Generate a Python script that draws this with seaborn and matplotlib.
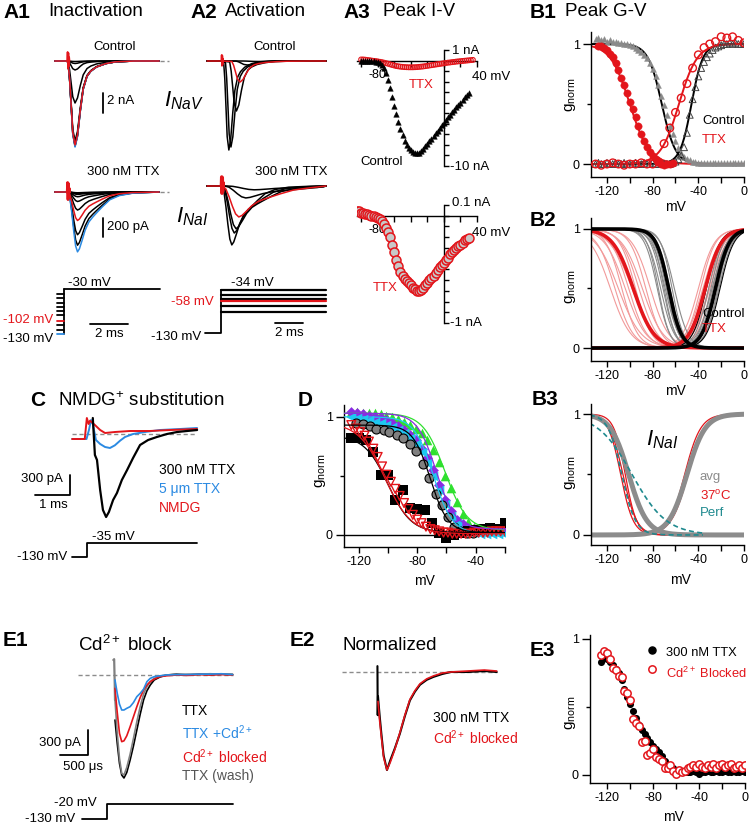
import numpy as np
import seaborn as sns
import matplotlib.pyplot as plt
from matplotlib.lines import Line2D

# ---------------- values ----------------
# normalised Na current waveforms, time in ms from the voltage step
ctrl_wave_t = [-0.7, -0.05, 0.0, 0.08, 0.16, 0.25, 0.37, 0.5, 0.65, 0.8, 1.0, 1.2, 1.5, 2.0, 2.5, 3.5, 4.8]
ctrl_wave = [0, 0, 0.02, 0.2, 0.5, 0.85, 1.0, 0.88, 0.58, 0.33, 0.18, 0.12, 0.07, 0.03, 0.01, 0, 0]
ttx_wave_t = [-0.7, -0.05, 0.0, 0.1, 0.2, 0.3, 0.4, 0.5, 0.6, 0.75, 0.9, 1.1, 1.3, 1.5, 1.8, 2.2, 2.7, 3.4, 4.8]
ttx_wave = [0, 0, 0, 0.1, 0.35, 0.65, 0.9, 1.0, 0.95, 0.8, 0.64, 0.5, 0.42, 0.35, 0.25, 0.13, 0.06, 0.02, 0]
artifact_t = [-0.04, -0.02, 0.0, 0.02, 0.04, 0.06, 0.08]
artifact = [0, 1.0, -0.8, 0.9, -0.6, 0.4, 0]

# A1 inactivation: prepulse (mV) and peak currents
a1_pre_mv = [-130, -121, -111, -102, -88, -79, -70, -61, -50, -41]
a1_step_mv = -30
a1_ctrl_peak = [-8.6, -8.5, -8.5, -8.4, -8.3, -8.0, -4.2, -0.9, -0.25, -0.05]   # nA
a1_ttx_peak = [-630, -560, -450, -300, -190, -100, -50, -25, -15, -8]         # pA

# A2 activation: test pulses (mV), peaks and kinetics
a2_test_mv = [-83, -69, -58, -54, -45, -34]
a2_ctrl_peak = [-0.05, -0.4, -2.1, -5.0, -8.6, -8.9]
a2_ctrl_delay = [1.5, 1.0, 0.7, 0.55, 0.25, 0.12]
a2_ctrl_stretch = [3.0, 2.2, 1.6, 1.3, 1.05, 1.0]
a2_ttx_peak = [-40, -126, -326, -450, -495, -620]
a2_ttx_delay = [0.4, 0.2, 0.05, 0.05, 0.05, 0.0]
a2_ttx_stretch = [3.8, 3.0, 2.3, 1.9, 1.65, 1.4]

# A3 peak I-V
iv_ctrl_v = np.arange(-100, 30.1, 2.5)
iv_ctrl_na = [0.0, 0.0, 0.0, 0.0, 0.0, -0.05, -0.05, -0.1, -0.15, -0.25,
              -0.4, -0.75, -1.2, -1.8, -2.6, -3.5, -4.3, -5.1, -5.8, -6.5,
              -7.1, -7.6, -8.0, -8.3, -8.5, -8.65, -8.75, -8.8, -8.75, -8.6,
              -8.4, -8.15, -7.9, -7.65, -7.4, -7.15, -6.9, -6.65, -6.4, -6.15,
              -5.9, -5.65, -5.4, -5.15, -4.9, -4.65, -4.45, -4.2, -4.0, -3.75,
              -3.5, -3.3, -3.1]
iv_ttx_v = np.arange(-100, 35.1, 2.5)
iv_ttx_na = [0.1, 0.1, 0.08, 0.05, 0.03, 0.0, -0.03, -0.05, -0.08, -0.12,
             -0.15, -0.2, -0.25, -0.3, -0.36, -0.42, -0.47, -0.52, -0.55, -0.58,
             -0.6, -0.62, -0.63, -0.64, -0.64, -0.64, -0.63, -0.62, -0.6, -0.58,
             -0.56, -0.53, -0.5, -0.47, -0.44, -0.41, -0.38, -0.35, -0.32, -0.29,
             -0.26, -0.23, -0.2, -0.18, -0.15, -0.13, -0.1, -0.08, -0.06, -0.04,
             -0.02, 0.0, 0.02, 0.04, 0.06]
iv_nai_v = np.arange(-105, 30.1, 2.5)
iv_nai_na = [0.04, 0.04, 0.03, 0.03, 0.02, 0.02, 0.01, 0.0, 0.0, -0.01,
             -0.02, -0.03, -0.05, -0.08, -0.11, -0.15, -0.2, -0.27, -0.34, -0.41,
             -0.47, -0.52, -0.56, -0.59, -0.61, -0.63, -0.65, -0.67, -0.68, -0.7,
             -0.7, -0.69, -0.67, -0.65, -0.63, -0.6, -0.58, -0.56, -0.53, -0.51,
             -0.48, -0.46, -0.44, -0.41, -0.39, -0.36, -0.34, -0.32, -0.3, -0.28,
             -0.27, -0.25, -0.23, -0.22, -0.21]

# B1 peak G-V
b1_v = np.arange(-130, 0.1, 2.5)
b1_ctrl_inact = [1.04, 1.05, 1.03, 1.04, 1.02, 1.03, 1.02, 1.02, 1.01, 1.01,
                 1.0, 1.0, 0.99, 0.98, 0.97, 0.95, 0.93, 0.91, 0.88, 0.84,
                 0.79, 0.73, 0.66, 0.57, 0.49, 0.41, 0.32, 0.25, 0.19, 0.13,
                 0.09, 0.06, 0.04, 0.03, 0.02, 0.02, 0.01, 0.01, 0.01, 0.01,
                 0.01, 0.01, 0.01, 0.01, 0.01, 0.01, 0.01, 0.01, 0.01, 0.01,
                 0.01, 0.01, 0.01]
b1_ctrl_act = [0.0, 0.01, 0.0, 0.0, 0.01, 0.0, 0.0, 0.01, 0.0, 0.0,
               0.01, 0.0, 0.0, 0.0, 0.01, 0.0, 0.0, 0.01, 0.0, 0.0,
               0.01, 0.0, 0.0, 0.01, 0.0, 0.0, 0.0, 0.01, 0.02, 0.04,
               0.07, 0.14, 0.26, 0.41, 0.54, 0.64, 0.73, 0.8, 0.85, 0.89,
               0.92, 0.95, 0.97, 0.98, 0.99, 1.0, 1.0, 1.01, 1.0, 1.01,
               1.0, 1.0, 1.0]
b1_ttx_inact_v = np.arange(-127.5, -62.4, 2.5)
b1_ttx_inact = [0.98, 0.98, 0.97, 0.95, 0.92, 0.89, 0.84, 0.78, 0.72, 0.66,
                0.59, 0.52, 0.46, 0.39, 0.32, 0.25, 0.19, 0.14, 0.1, 0.07,
                0.04, 0.02, 0.0, -0.01, 0.0, 0.0, 0.01]
b1_ttx_act_v = np.arange(-130, 0.1, 5)
b1_ttx_act = [0.0, -0.01, 0.0, 0.01, 0.0, -0.01, 0.0, 0.0, 0.01, 0.0,
              0.0, 0.02, 0.17, 0.3, 0.43, 0.55, 0.67, 0.8, 0.91, 0.97,
              1.0, 1.02, 1.06, 1.05, 1.06, 1.03, 1.01]
# Boltzmann fits (V1/2, k)
b1_fit_ctrl = [(-72, 6.0), (-46, 5.0)]
b1_fit_ttx = [(-100, 8.5), (-57, 8.0)]

# B2 individual-cell fits
b2_ctrl_inact_vh = [-76, -75, -73, -71, -70, -69, -68, -67, -66, -65, -63, -61]
b2_ctrl_inact_k = [5.5, 5.0, 6.0, 5.5, 5.0, 6.0, 5.5, 5.0, 6.0, 5.5, 5.0, 6.0]
b2_ctrl_act_vh = [-31, -29, -28, -27, -26, -25, -24, -23, -22]
b2_ctrl_act_k = [6.0, 5.5, 6.5, 6.0, 5.5, 6.0, 6.5, 5.5, 6.0]
b2_ctrl_dark_act_vh = [-33, -21]
b2_ttx_inact_vh = [-117, -113, -110, -107, -104, -101, -98, -95, -92, -89, -86, -82]
b2_ttx_inact_k = [9, 8, 10, 7, 9, 8, 10, 7, 8, 9, 7, 8]
b2_ttx_act_vh = [-40, -38, -36, -35, -33, -31, -30, -28]
b2_ttx_act_k = [7, 6.5, 7.5, 7, 6.5, 7, 7.5, 7]
b2_mean_ctrl = [(-66, 5.5), (-25, 6.0)]
b2_mean_ttx = [(-97, 9.0), (-34, 7.0)]

# B3 I_NaI fits
b3_avg = [(-101, 8.0), (-50, 8.0)]
b3_warm_inact = [(-108, 5.5), (-106, 6.0), (-104, 5.0)]
b3_warm_act = [(-52, 7.0), (-49, 7.5)]
b3_perf_inact = [(-107, 6.0), (-98, 15.0)]

# C NMDG substitution traces (ms, pA)
c_ttx_t = [0.08, 0.14, 0.2, 0.29, 0.37, 0.46, 0.54, 0.66, 0.77, 0.91, 1.06, 1.23, 1.43, 1.66, 1.91, 2.2, 2.49, 2.77, 3.06]
c_ttx_pa = [240, -315, -390, -840, -1140, -1245, -1170, -990, -885, -690, -540, -360, -165, -90, -45, 0, 30, 45, 60]
c_5ttx_t = [-0.51, -0.1, -0.03, 0.03, 0.08, 0.17, 0.29, 0.43, 0.57, 0.71, 0.86, 1.0, 1.23, 1.57, 2.0, 2.57, 3.06]
c_5ttx_pa = [-75, -75, 60, 210, 150, -90, -150, -195, -210, -170, -100, -45, 0, 30, 60, 75, 90]
c_nmdg_t = [-0.51, -0.15, -0.09, -0.04, 0.0, 0.14, 0.29, 0.43, 0.71, 1.14, 1.71, 2.29, 3.06]
c_nmdg_pa = [-75, -75, 240, 150, 200, 135, 60, 15, 30, 45, 45, 60, 75]

# D inactivation curves of several cells
d_v = [-125, -121, -117, -113, -109, -105, -101, -97, -93, -89, -85, -81, -77, -73,
       -69, -65, -61, -57, -53, -49, -45, -41, -37, -33, -29, -25, -21]
d_green = [1.04, 1.04, 1.03, 1.03, 1.03, 1.02, 1.01, 1.0, 0.98, 0.96, 0.93, 0.9, 0.86, 0.8,
           0.72, 0.62, 0.5, 0.4, 0.28, 0.18, 0.11, 0.07, 0.05, 0.04, 0.04, 0.04, 0.04]
d_purple = [1.04, 1.03, 1.02, 1.01, 1.0, 0.99, 0.97, 0.95, 0.92, 0.89, 0.85, 0.8, 0.73, 0.65,
            0.55, 0.42, 0.3, 0.2, 0.13, 0.09, 0.06, 0.05, 0.05, 0.05, 0.05, 0.05, 0.05]
d_cyan = [1.0, 0.99, 0.98, 0.97, 0.96, 0.95, 0.93, 0.91, 0.89, 0.86, 0.82, 0.77, 0.7, 0.61,
          0.5, 0.38, 0.26, 0.16, 0.09, 0.05, 0.03, 0.02, 0.01, 0.01, 0.01, 0.01, 0.01]
d_gray_v = [-122, -117, -112, -108, -103, -99, -94, -90, -85, -81, -76, -72, -67, -63, -59, -55, -51, -46, -42]
d_gray = [0.95, 0.94, 0.92, 0.9, 0.89, 0.87, 0.85, 0.82, 0.77, 0.71, 0.6, 0.48, 0.35, 0.25, 0.15, 0.07, 0.03, 0.02, 0.02]
d_black_v = [-125, -120, -115, -110, -105, -100, -95, -90, -85, -80, -75, -70, -65, -60, -55, -50, -45, -40, -35, -30, -25, -20]
d_black = [0.82, 0.82, 0.8, 0.7, 0.51, 0.51, 0.3, 0.38, 0.23, 0.22, 0.21, 0.1, 0.02, -0.03, 0.0, 0.02, 0.03, 0.04, 0.05, 0.06, 0.05, 0.1]
d_red_v = np.arange(-125, -19.9, 3)
d_red = [0.93, 0.9, 0.87, 0.84, 0.79, 0.73, 0.66, 0.58, 0.51, 0.45, 0.39, 0.33, 0.27, 0.22, 0.17,
         0.13, 0.1, 0.07, 0.05, 0.04, 0.03, 0.02, 0.02, 0.01, 0.01, 0.01, 0.01, 0.01, 0.02, 0.02,
         0.02, 0.02, 0.03, 0.03, 0.03, 0.03]
# fits (top, bottom, V1/2, k)
d_fits = {'green': (1.03, 0.04, -61, 7.5), 'purple': (1.03, 0.05, -67, 6.5), 'cyan': (1.0, 0.01, -69, 6.5),
          'gray': (0.93, 0.02, -71, 6.0), 'black': (0.84, 0.02, -100, 8.0), 'red': (0.95, 0.01, -102, 9.0)}

# E1/E2 Cd2+ block traces (ms, pA)
e1_t = [0.0, 0.04, 0.08, 0.12, 0.16, 0.21, 0.27, 0.33, 0.39, 0.45, 0.51, 0.57, 0.63, 0.7, 0.8, 0.92, 1.1, 1.3, 1.5, 1.7, 1.9, 2.1]
e1_ttx = [-540, -820, -1060, -1200, -1236, -1170, -1020, -850, -660, -470, -300, -190, -120, -60, -25, 0, 10, 0, 10, 5, 10, 5]
e1_wash = [-300, -700, -1000, -1180, -1200, -1110, -950, -760, -560, -380, -230, -140, -80, -40, -15, 0, 5, 10, 10, 15, 10, 10]
e1_cd_blocked = [-160, -450, -700, -800, -790, -730, -620, -500, -380, -270, -180, -120, -80, -50, -20, -10, 0, -5, 5, 0, 5, 0]
e1_ttx_cd = [-60, -220, -350, -420, -420, -400, -380, -330, -260, -220, -170, -80, -40, -20, -10, 0, 5, 5, 10, 10, 15, 5]
e1_art_t = [-0.03, -0.015, -0.005, 0.0]
e1_art = [180, 190, -100, -300]
e2_ttx_t = [-0.01, -0.005, 0.0, 0.03, 0.06, 0.1, 0.16, 0.22, 0.3, 0.39, 0.48, 0.57, 0.66, 0.75, 0.87, 0.99, 1.15, 1.3, 1.6, 1.9, 2.12]
e2_ttx = [0.06, -0.44, -0.25, -0.45, -0.63, -0.85, -1.0, -0.9, -0.78, -0.63, -0.45, -0.29, -0.2, -0.13, -0.08, -0.05, -0.02, 0.0, 0.0, 0.01, 0.0]
e2_cd_t = [0.0, 0.03, 0.06, 0.1, 0.16, 0.22, 0.3, 0.39, 0.48, 0.57, 0.66, 0.75, 0.87, 0.99, 1.15, 1.3, 1.6, 1.9, 2.12]
e2_cd = [-0.3, -0.5, -0.66, -0.87, -1.0, -0.92, -0.79, -0.62, -0.44, -0.28, -0.19, -0.12, -0.07, -0.04, -0.01, 0.0, 0.01, 0.02, 0.01]

# E3 inactivation, 300 nM TTX vs Cd2+ blocked
e3_v = np.arange(-125, 0.1, 2.5)
e3_ttx = [0.83, 0.86, 0.85, 0.83, 0.81, 0.78, 0.75, 0.7, 0.63, 0.57,
          0.52, 0.47, 0.42, 0.37, 0.33, 0.3, 0.27, 0.24, 0.21, 0.19,
          0.17, 0.14, 0.1, 0.07, 0.06, 0.05, 0.04, 0.03, 0.03, 0.02,
          0.02, 0.02, 0.03, 0.02, 0.01, 0.02, 0.02, 0.03, 0.02, 0.02,
          0.03, 0.02, 0.02, 0.03, 0.02, 0.02, 0.03, 0.02, 0.02, 0.03, 0.02]
e3_cd = [0.88, 0.91, 0.9, 0.85, 0.79, 0.77, 0.73, 0.72, 0.62, 0.6,
         0.55, 0.41, 0.38, 0.36, 0.24, 0.25, 0.15, 0.16, 0.19, 0.13,
         0.12, 0.1, 0.05, 0.05, 0.07, 0.03, 0.01, 0.04, 0.02, 0.03,
         0.05, 0.06, 0.07, 0.06, 0.08, 0.06, 0.05, 0.07, 0.06, 0.08,
         0.05, 0.07, 0.08, 0.06, 0.07, 0.08, 0.05, 0.06, 0.07, 0.05, 0.07]

RED = '#e3151b'
BLUE = '#2b8ae2'
GRAY = '#8a8a8a'
LIGHTRED = '#f29a9a'
TEAL = '#1f8a8f'

sns.set_theme(style='ticks', rc={'axes.edgecolor': 'black', 'axes.linewidth': 1.0,
                                 'xtick.color': 'black', 'ytick.color': 'black',
                                 'xtick.major.width': 1.0, 'ytick.major.width': 1.0,
                                 'ytick.minor.width': 1.0, 'xtick.minor.width': 1.0})
plt.rcParams['font.family'] = ['Liberation Sans', 'DejaVu Sans']
plt.rcParams['mathtext.fontset'] = 'custom'
plt.rcParams['mathtext.rm'] = 'Liberation Sans'
plt.rcParams['mathtext.it'] = 'Liberation Sans:italic'

W, H = 750, 824
fig = plt.figure(figsize=(W / 100, H / 100), dpi=100)


def box(x0, y0, x1, y1):
    return fig.add_axes([x0 / W, 1 - y1 / H, (x1 - x0) / W, (y1 - y0) / H])


def txt(x, y, s, size=9.5, ha='left', color='black', **kw):
    fig.text(x / W, 1 - y / H, s, size=size, ha=ha, va='center', color=color, **kw)


def bar(xs, ys, lw=1.3):
    fig.add_artist(Line2D([x / W for x in xs], [1 - y / H for y in ys], color='black', lw=lw))


def trace_axes(x0, y0, x1, y1, t0, px_ms, base, px_unit):
    # axes placed by pixel box, with time zero at t0 and y zero at base
    ax = box(x0, y0, x1, y1)
    ax.set_xlim((x0 - t0) / px_ms, (x1 - t0) / px_ms)
    ax.set_ylim((base - y1) / px_unit, (base - y0) / px_unit)
    ax.axis('off')
    return ax


def draw(ax, t, y, color, lw=1.0, **kw):
    sns.lineplot(x=np.asarray(t, float), y=np.asarray(y, float), ax=ax, color=color, lw=lw,
                 sort=False, estimator=None, legend=False, **kw)


def baseline(ax, t0, t1):
    ax.plot([t0, t1], [0, 0], color='#8c8c8c', lw=1.0, ls=(0, (3, 2)))


def wave(t_list, shape, peak, delay=0.0, stretch=1.0, start=None, end=None):
    t = np.array(t_list, float)
    y = peak * np.array(shape, float)
    t = np.where(t >= 0, delay + t * stretch, t)
    if start is not None:
        t[0] = start
    if end is not None:
        keep = t < end
        t = np.append(t[keep], end)
        y = np.append(y[keep], 0.0)
    return t, y


def rank(v, red_v):
    return 2 if v == red_v else (1 if v == -130 else 0)


def level_color(v, red_v):
    return RED if v == red_v else (BLUE if v == -130 else 'black')


def inact(v, vh, k, top=1.0, bottom=0.0):
    return bottom + (top - bottom) / (1 + np.exp((v - vh) / k))


def act(v, vh, k):
    return 1 / (1 + np.exp((vh - v) / k))


def gv_axes(x0, y0, x1, y1, xlim, ylim, xticks, xlabels):
    ax = box(x0, y0, x1, y1)
    ax.set_xlim(xlim)
    ax.set_ylim(ylim)
    sns.despine(ax=ax)
    ax.set_xticks(xticks, xlabels)
    ax.set_yticks([0, 1], ['0', '1'])
    ax.set_yticks([0.5], minor=True)
    ax.tick_params(axis='x', length=4.5, width=1, labelsize=9, pad=2)
    ax.tick_params(axis='y', which='major', length=6, width=1, labelsize=9, pad=2)
    ax.tick_params(axis='y', which='minor', length=3, width=1)
    return ax


def iv_axes(x0, y0, x1, y1, ylim, yticks):
    ax = box(x0, y0, x1, y1)
    ax.set_xlim(-105, 40)
    ax.set_ylim(ylim)
    ax.spines['left'].set_position(('data', 0))
    ax.spines['bottom'].set_position(('data', 0))
    ax.spines['right'].set_visible(False)
    ax.spines['top'].set_visible(False)
    ax.set_xticks(range(-100, 41, 20), ['', '-80', '', '', '', '', '', ''])
    ax.set_yticks(yticks, [''] * len(yticks))
    ax.tick_params(axis='x', direction='out', length=4, width=1, labelsize=9, pad=2)
    ax.tick_params(axis='y', direction='in', length=3.5, width=1)
    return ax


def dots(ax, x, y, marker, s, face, edge, lw=0.0):
    sns.scatterplot(x=np.asarray(x, float), y=np.asarray(y, float), ax=ax, marker=marker, s=s,
                    facecolor=face, edgecolor=edge, linewidth=lw, legend=False, zorder=3)


v_fine = np.linspace(-135, 0, 271)

# ---------------- A1 inactivation ----------------
a1c = trace_axes(50, 38, 175, 158, 68, 19, 61, 10)
for i in sorted(range(len(a1_pre_mv)), key=lambda j: rank(a1_pre_mv[j], -102)):
    t, y = wave(ctrl_wave_t, ctrl_wave, a1_ctrl_peak[i])
    draw(a1c, t, y, level_color(a1_pre_mv[i], -102), lw=1.1)
draw(a1c, artifact_t, 0.9 * np.array(artifact), RED, lw=1.3)
baseline(a1c, 4.85, 5.3)

a1t = trace_axes(50, 163, 175, 265, 68, 19, 192, 0.095)
for i in sorted(range(len(a1_pre_mv)), key=lambda j: rank(a1_pre_mv[j], -102)):
    t, y = wave(ttx_wave_t, ttx_wave, a1_ttx_peak[i])
    draw(a1t, t, y, level_color(a1_pre_mv[i], -102), lw=1.1)
draw(a1t, artifact_t, 100 * np.array(artifact), RED, lw=2.0)
baseline(a1t, 4.85, 5.3)

a1p = trace_axes(45, 275, 175, 348, 64, 19, 275.5, 0.45)
a1p.plot([0, 0], [min(a1_pre_mv), a1_step_mv], color='black', lw=1.3)
for v in a1_pre_mv:
    a1p.plot([-0.37, 0], [v, v], color=level_color(v, -102), lw=1.3)
a1p.plot([0, 5.05], [a1_step_mv, a1_step_mv], color='black', lw=1.3)

txt(3, 12, 'A1', size=15, weight='bold')
txt(48, 12, 'Inactivation', size=13.5)
txt(115, 47, 'Control', ha='center')
bar([103, 103], [93, 113])
txt(107, 101, '2 nA')
txt(164, 101, r'$I_{NaV}$', size=16)
txt(123, 172, '300 nM TTX', ha='center')
bar([103, 103], [218, 237])
txt(107, 227, '200 pA')
txt(176, 217, r'$I_{NaI}$', size=16)
txt(68, 283, '-30 mV')
txt(53, 320, '-102 mV', ha='right', color=RED)
txt(53, 339, '-130 mV', ha='right')
bar([90, 128], [324, 324])
txt(109, 334, '2 ms', ha='center')

# ---------------- A2 activation ----------------
a2c = trace_axes(200, 38, 335, 158, 222, 14, 61, 10)
a2t = trace_axes(200, 163, 335, 265, 222, 14, 186, 0.095)
for i in sorted(range(len(a2_test_mv)), key=lambda j: rank(a2_test_mv[j], -58)):
    col = level_color(a2_test_mv[i], -58)
    t, y = wave(ctrl_wave_t, ctrl_wave, a2_ctrl_peak[i], a2_ctrl_delay[i], a2_ctrl_stretch[i], -1.07, 7.43)
    draw(a2c, t, y, col, lw=1.1)
    t, y = wave(ttx_wave_t, ttx_wave, a2_ttx_peak[i], a2_ttx_delay[i], a2_ttx_stretch[i], -1.07, 7.43)
    draw(a2t, t, y, col, lw=1.1)
draw(a2c, artifact_t, 0.6 * np.array(artifact), RED, lw=1.3)
draw(a2t, artifact_t, 95 * np.array(artifact), RED, lw=2.5)

a2p = trace_axes(190, 275, 335, 348, 221, 14, 274.7, 0.45)
a2p.plot([-1.14, 0, 0], [-130, -130, max(a2_test_mv)], color='black', lw=1.3)
for v in sorted(a2_test_mv, key=lambda x: x == -58):
    a2p.plot([0, 7.5], [v, v], color=level_color(v, -58), lw=1.6)

txt(190, 12, 'A2', size=15, weight='bold')
txt(225, 12, 'Activation', size=13.5)
txt(275, 47, 'Control', ha='center')
txt(291, 172, '300 nM TTX', ha='center')
txt(252, 283, '-34 mV', ha='center')
txt(214, 302, '-58 mV', ha='right', color=RED)
txt(201, 337, '-130 mV', ha='right')
bar([275, 303], [323, 323])
txt(289, 333, '2 ms', ha='center')

# ---------------- A3 peak I-V ----------------
iv1 = iv_axes(357, 50, 477, 166, (-10, 1), np.arange(-10, 1.1, 1))
dots(iv1, iv_ttx_v, iv_ttx_na, 'o', 12, 'none', RED, 0.8)
dots(iv1, iv_ctrl_v, iv_ctrl_na, '^', 16, 'black', 'black', 0.3)
iv2 = iv_axes(357, 205, 477, 323, (-1, 0.1), np.arange(-1, 0.101, 0.1))
dots(iv2, iv_nai_v, iv_nai_na, 'o', 42, '#c8c8c8', RED, 1.1)

txt(343, 12, 'A3', size=15, weight='bold')
txt(383, 12, 'Peak I-V', size=13.5)
txt(452, 51, '1 nA')
txt(472, 77, '40 mV')
txt(450, 167, '-10 nA')
txt(421, 85, 'TTX', ha='center', color=RED)
txt(382, 162, 'Control', ha='center')
txt(452, 203, '0.1 nA')
txt(472, 233, '40 mV')
txt(450, 323, '-1 nA')
txt(385, 288, 'TTX', ha='center', color=RED)

# ---------------- B1 peak G-V ----------------
b_ticks = list(range(-120, 1, 20))
b_labels = ['-120', '', '-80', '', '-40', '', '0']
b1 = gv_axes(591, 32, 744, 177, (-134, 0), (-0.108, 1.1), b_ticks, b_labels)
dots(b1, b1_v, b1_ctrl_inact, '^', 18, GRAY, GRAY, 0.3)
dots(b1, b1_v, b1_ctrl_act, '^', 24, 'none', '#444444', 0.7)
dots(b1, b1_ttx_inact_v, b1_ttx_inact, 'o', 28, RED, RED, 0.3)
dots(b1, b1_ttx_act_v, b1_ttx_act, 'o', 30, 'none', RED, 1.0)
draw(b1, v_fine, inact(v_fine, *b1_fit_ctrl[0]), 'black', lw=1.4)
draw(b1, v_fine, act(v_fine, *b1_fit_ctrl[1]), 'black', lw=1.4)
draw(b1, v_fine, inact(v_fine, *b1_fit_ttx[0]), RED, lw=1.4)
draw(b1, v_fine, act(v_fine, *b1_fit_ttx[1]), RED, lw=1.4)

txt(530, 12, 'B1', size=15, weight='bold')
txt(565, 12, 'Peak G-V', size=13.5)
txt(702, 121, 'Control', size=9.5)
txt(702, 140, 'TTX', size=9.5, color=RED)

# ---------------- B2 individual fits ----------------
b2 = gv_axes(591, 218, 744, 361, (-134, 0), (-0.109, 1.092), b_ticks, b_labels)
for vh, k in zip(b2_ttx_inact_vh, b2_ttx_inact_k):
    draw(b2, v_fine, inact(v_fine, vh, k), LIGHTRED, lw=0.8)
for vh, k in zip(b2_ttx_act_vh, b2_ttx_act_k):
    draw(b2, v_fine, act(v_fine, vh, k), LIGHTRED, lw=0.8)
for vh, k in zip(b2_ctrl_inact_vh, b2_ctrl_inact_k):
    draw(b2, v_fine, inact(v_fine, vh, k), GRAY, lw=0.8)
for vh, k in zip(b2_ctrl_act_vh, b2_ctrl_act_k):
    draw(b2, v_fine, act(v_fine, vh, k), GRAY, lw=0.8)
for vh in b2_ctrl_dark_act_vh:
    draw(b2, v_fine, act(v_fine, vh, 6.0), 'black', lw=0.8)
draw(b2, v_fine, inact(v_fine, *b2_mean_ttx[0]), RED, lw=2.6)
draw(b2, v_fine, act(v_fine, *b2_mean_ttx[1]), RED, lw=2.6)
draw(b2, v_fine, inact(v_fine, *b2_mean_ctrl[0]), 'black', lw=2.6)
draw(b2, v_fine, act(v_fine, *b2_mean_ctrl[1]), 'black', lw=2.6)

txt(530, 220, 'B2', size=15, weight='bold')
txt(702, 314, 'Control', size=9.5)
txt(702, 329, 'TTX', size=9.5, color=RED)

# ---------------- B3 I_NaI ----------------
b3 = gv_axes(591, 404, 744, 545, (-134, 0), (-0.083, 1.083), b_ticks, b_labels)
v_warm = v_fine[v_fine <= -36]
v_act = v_fine[v_fine >= -80]
for vh, k in b3_warm_inact:
    draw(b3, v_warm, inact(v_warm, vh, k), RED, lw=0.9)
for vh, k in b3_warm_act:
    draw(b3, v_act, act(v_act, vh, k), RED, lw=0.9)
draw(b3, v_fine, inact(v_fine, *b3_avg[0]), '#8c8c8c', lw=3.6)
draw(b3, v_fine, act(v_fine, *b3_avg[1]), '#8c8c8c', lw=3.6)
for vh, k in b3_perf_inact:
    draw(b3, v_warm, inact(v_warm, vh, k), TEAL, lw=1.2, dashes=(3, 2))

txt(532, 399, 'B3', size=15, weight='bold')
txt(646, 440, r'$I_{NaI}$', size=16)
txt(700, 477, 'avg', size=9.5, color='#8c8c8c')
txt(700, 496, r'37$^{\mathrm{o}}$C', size=9.5, color=RED)
txt(700, 513, 'Perf', size=9.5, color=TEAL)

# ---------------- C NMDG substitution ----------------
cax = trace_axes(60, 405, 205, 530, 90, 35, 434, 1 / 15)
baseline(cax, -0.51, 3.06)
draw(cax, c_5ttx_t, c_5ttx_pa, BLUE, lw=1.4)
draw(cax, c_nmdg_t, c_nmdg_pa, RED, lw=1.4)
draw(cax, c_ttx_t, c_ttx_pa, 'black', lw=1.6)
cp = trace_axes(10, 530, 205, 568, 87, 35, 537.9, 0.147)
cp.plot([-0.43, 0, 0, 3.14], [-130, -130, -35, -35], color='black', lw=1.3)

txt(30, 401, 'C', size=15, weight='bold')
txt(58, 401, r'NMDG$^{+}$ substitution', size=13.5)
bar([70, 70, 35], [475, 495, 495])
txt(63, 479, '300 pA', ha='right')
txt(53, 505, '1 ms', ha='center')
txt(159, 470, '300 nM TTX', size=10)
txt(159, 489, '5 \u03bcm TTX', size=10, color=BLUE)
txt(159, 508, 'NMDG', size=10, color=RED)
txt(113, 537, '-35 mV', ha='center')
txt(67, 557, '-130 mV', ha='right')

# ---------------- D ----------------
d = gv_axes(344, 405, 505, 547, (-130, -20), (-0.102, 1.10),
            list(range(-120, -19, 20)), ['-120', '', '-80', '', '-40', ''])
d.axhline(0, color='black', lw=1.0, zorder=1)
dv = np.linspace(-130, -20, 221)
dots(d, d_v, d_green, '^', 48, '#2fe02f', '#2fe02f')
dots(d, d_v, d_purple, 'D', 30, '#8a2be2', '#8a2be2')
dots(d, d_v, d_cyan, '<', 48, '#1ec8f0', '#1ec8f0')
dots(d, d_gray_v, d_gray, 'o', 42, '#808080', 'black', 0.8)
dots(d, d_black_v, d_black, 's', 42, 'black', 'black')
dots(d, d_red_v, d_red, 'v', 40, 'none', RED, 1.0)
fit_colors = {'green': '#2fe02f', 'purple': '#8a2be2', 'cyan': '#1ec8f0', 'gray': 'black', 'black': 'black', 'red': RED}
for name, (top, bottom, vh, k) in d_fits.items():
    draw(d, dv, inact(dv, vh, k, top, bottom), fit_colors[name], lw=0.9, zorder=4)

txt(298, 401, 'D', size=15, weight='bold')

# ---------------- E1 Cd2+ block ----------------
e1 = trace_axes(70, 655, 240, 792, 115, 56, 675, 1 / 12)
baseline(e1, -0.66, 2.11)
draw(e1, e1_art_t, e1_art, '#808080', lw=1.6)
draw(e1, e1_t, e1_ttx, 'black', lw=1.2)
draw(e1, e1_t, e1_wash, '#808080', lw=1.2)
draw(e1, e1_t, e1_cd_blocked, RED, lw=1.2)
draw(e1, e1_t, e1_ttx_cd, BLUE, lw=1.2)
ep = trace_axes(10, 795, 240, 824, 107, 56, 801.3, 0.136)
ep.plot([(82 - 107) / 56, 0, 0, (233 - 107) / 56], [-130, -130, -20, -20], color='black', lw=1.3)

txt(3, 640, 'E1', size=15, weight='bold')
txt(78, 645, r'Cd$^{2+}$ block', size=13.5)
bar([88, 88, 60], [730, 755, 755])
txt(81, 743, '300 pA', ha='right')
txt(83, 767, '500 \u03bcs', ha='center')
txt(182, 711, 'TTX', size=10)
txt(182, 733, r'TTX +Cd$^{2+}$', size=10, color=BLUE)
txt(182, 757, r'Cd$^{2+}$ blocked', size=10, color=RED)
txt(182, 776, 'TTX (wash)', size=10, color='#555555')
txt(97, 803, '-20 mV', ha='right')
txt(75, 819, '-130 mV', ha='right')

# ---------------- E2 normalized ----------------
e2 = trace_axes(330, 655, 500, 792, 378, 56, 672, 98)
baseline(e2, -0.64, 2.12)
draw(e2, e2_ttx_t, e2_ttx, 'black', lw=1.5)
draw(e2, e2_cd_t, e2_cd, RED, lw=1.2)

txt(290, 640, 'E2', size=15, weight='bold')
txt(343, 645, 'Normalized', size=13.5)
txt(433, 718, '300 nM TTX', size=10)
txt(433, 738, r'Cd$^{2+}$ blocked', size=10, color=RED)

# ---------------- E3 ----------------
e3 = gv_axes(590, 635, 745, 783, (-135, 0), (-0.059, 1.029), b_ticks, b_labels)
dots(e3, e3_v, e3_ttx, 'o', 26, 'black', 'black')
dots(e3, e3_v, e3_cd, 'o', 28, 'white', RED, 1.1)
e3.scatter([0.4], [0.9], transform=e3.transAxes, s=26, color='black', zorder=5)
e3.scatter([0.4], [0.77], transform=e3.transAxes, s=28, facecolor='white', edgecolor=RED, lw=1.1, zorder=5)
txt(666, 653, '300 nM TTX', size=9.3)
txt(666, 673, r'Cd$^{2+}$ Blocked', size=9.3, color=RED)
txt(530, 650, 'E3', size=15, weight='bold')

# shared axis titles
for ax in (b1, b2, b3, d, e3):
    ax.set(xlabel='', ylabel='')
for x, y in ((570, 95), (570, 287), (570, 473), (321, 471), (570, 713)):
    txt(x, y, r'g$_{\mathrm{norm}}$', size=11, ha='center', rotation=90)
for x, y in ((675, 207), (675, 391), (680, 580), (424, 581), (673, 817)):
    txt(x, y, 'mV', size=10, ha='center')

fig.savefig('out.png', dpi=100)
